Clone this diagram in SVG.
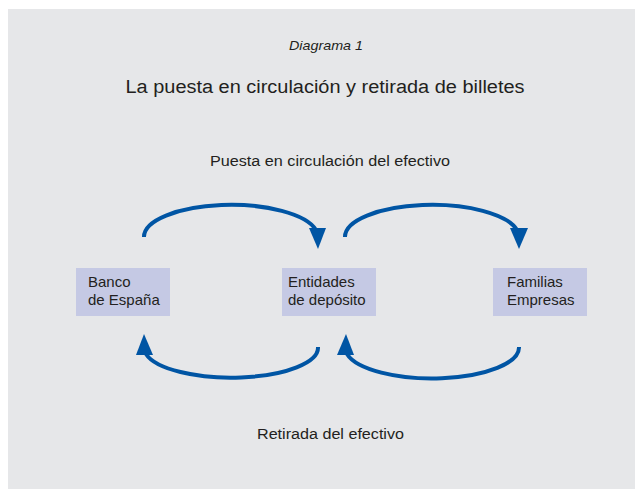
<svg xmlns="http://www.w3.org/2000/svg" width="635" height="491" viewBox="0 0 635 491">
<style>
.bg{fill:#e6e7e9}
.box{fill:#c5c9e4}
.lbl{font-family:"Liberation Sans",Arial,sans-serif;fill:#231f20}
.node{font-size:15px}
.arc{fill:none;stroke:#0055a4;stroke-width:4}
.head{fill:#0055a4}
</style>
<rect class="bg" x="8" y="9" width="627" height="480"/>
<text class="lbl" x="326" y="50" font-size="13.5" font-style="italic" text-anchor="middle" textLength="74" lengthAdjust="spacingAndGlyphs">Diagrama 1</text>
<text class="lbl" x="325" y="93" font-size="18" text-anchor="middle" textLength="399" lengthAdjust="spacingAndGlyphs">La puesta en circulación y retirada de billetes</text>
<text class="lbl" x="330" y="166" font-size="14" text-anchor="middle" textLength="240" lengthAdjust="spacingAndGlyphs">Puesta en circulación del efectivo</text>
<text class="lbl" x="330.5" y="439" font-size="14" text-anchor="middle" textLength="147" lengthAdjust="spacingAndGlyphs">Retirada del efectivo</text>
<g id="connectors">
<path class="arc" d="M144,237 A87,32 0 0 1 316,230"/>
<polygon class="head" points="309,228 326,228 318,249"/>
<path class="arc" d="M345,237 A87,32 0 0 1 517,230"/>
<polygon class="head" points="510,228 528,228 519,249"/>
<path class="arc" d="M318,347 A87,30 0 0 1 146,354"/>
<polygon class="head" points="136,355 153,355 144,334"/>
<path class="arc" d="M519,347 A87,31 0 0 1 347,354"/>
<polygon class="head" points="337,355 354,355 346,334"/>
</g>
<g id="banco">
<rect class="box" x="76" y="268" width="94" height="48"/>
<text class="lbl node" x="88" y="287">Banco</text>
<text class="lbl node" x="88" y="305">de España</text>
</g>
<g id="entidades">
<rect class="box" x="282" y="268" width="94" height="48"/>
<text class="lbl node" x="288" y="287">Entidades</text>
<text class="lbl node" x="288" y="305">de depósito</text>
</g>
<g id="familias">
<rect class="box" x="493" y="268" width="94" height="48"/>
<text class="lbl node" x="507" y="287">Familias</text>
<text class="lbl node" x="507" y="305">Empresas</text>
</g>
</svg>
